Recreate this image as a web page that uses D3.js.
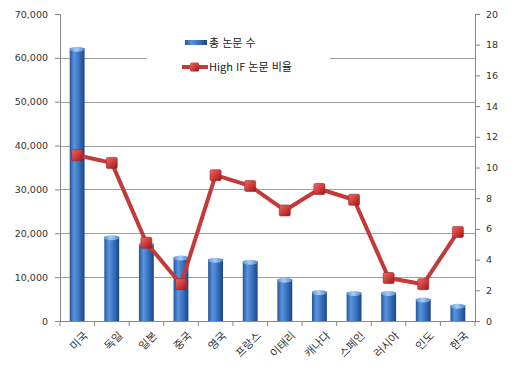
<!DOCTYPE html>
<html lang="ko">
<head>
<meta charset="UTF-8">
<title>논문 수</title>
<style>
  body { margin: 0; background: #fff; }
  text { font-family: "DejaVu Sans", sans-serif; }
  .kr { font-family: "Noto Sans CJK KR", sans-serif; }
</style>
</head>
<body>
<svg width="519" height="374"></svg>
<script src="https://cdn.jsdelivr.net/npm/d3@7"></script>
<script>
// 데이터
var countries = ["미국", "독일", "일본", "중국", "영국", "프랑스", "이태리", "캐나다", "스페인", "러시아", "인도", "한국"];
var totalPapers = [62200, 19200, 17600, 14600, 14100, 13600, 9500, 6700, 6500, 6500, 5000, 3600];
var highIfRatio = [10.8, 10.3, 5.1, 2.4, 9.5, 8.8, 7.2, 8.6, 7.9, 2.8, 2.4, 5.8];
var leftTicks = [0, 10000, 20000, 30000, 40000, 50000, 60000, 70000];
var rightTicks = [0, 2, 4, 6, 8, 10, 12, 14, 16, 18, 20];

var marge = {top: 14, bottom: 53, left: 60, right: 44};
var svg = d3.select("svg");
var width = 519 - marge.left - marge.right;
var height = 374 - marge.top - marge.bottom;
var g = svg.append("g").attr("transform", "translate(" + marge.left + "," + marge.top + ")");

var x = d3.scaleBand().domain(countries).range([0, width]).paddingInner(0.57).paddingOuter(0.28);
var xTick = d3.scaleBand().domain(countries).range([0, width]);
var yL = d3.scaleLinear().domain([0, 70000]).range([height, 0]);
var yR = d3.scaleLinear().domain([0, 20]).range([height, 0]);

// 그라데이션
var defs = svg.append("defs");
var barGrad = defs.append("linearGradient").attr("id", "barGrad").attr("x1", 0).attr("x2", 1).attr("y1", 0).attr("y2", 0);
[["0%", "#24559c"], ["30%", "#5a94dc"], ["55%", "#3f7bcb"], ["100%", "#1c4682"]].forEach(function (s) {
  barGrad.append("stop").attr("offset", s[0]).attr("stop-color", s[1]);
});
var capGrad = defs.append("linearGradient").attr("id", "capGrad").attr("x1", 0).attr("x2", 1);
[["0%", "#5d96d8"], ["45%", "#a8cdf5"], ["100%", "#4f86c8"]].forEach(function (s) {
  capGrad.append("stop").attr("offset", s[0]).attr("stop-color", s[1]);
});
var markGrad = defs.append("linearGradient").attr("id", "markGrad").attr("x1", 0).attr("x2", 1).attr("y1", 0).attr("y2", 1);
[["0%", "#ea6a68"], ["60%", "#c93432"], ["100%", "#8e1c1c"]].forEach(function (s) {
  markGrad.append("stop").attr("offset", s[0]).attr("stop-color", s[1]);
});

// 격자선
g.append("g").selectAll("line")
  .data(leftTicks.slice(1, -1))
  .enter().append("line")
  .attr("x1", 0).attr("x2", width)
  .attr("y1", function (d) { return Math.round(yL(d)) + 0.5; })
  .attr("y2", function (d) { return Math.round(yL(d)) + 0.5; })
  .attr("stroke", "#a0a0a0").attr("stroke-width", 1);

// 막대
var bars = g.append("g").selectAll("g")
  .data(totalPapers)
  .enter().append("g");
bars.append("rect")
  .attr("x", function (d, i) { return x(countries[i]); })
  .attr("y", function (d) { return yL(d); })
  .attr("width", x.bandwidth())
  .attr("height", function (d) { return height - yL(d); })
  .attr("fill", "url(#barGrad)");
bars.append("ellipse")
  .attr("cx", function (d, i) { return x(countries[i]) + x.bandwidth() / 2; })
  .attr("cy", function (d) { return yL(d) + 1; })
  .attr("rx", x.bandwidth() / 2)
  .attr("ry", 2.5)
  .attr("fill", "url(#capGrad)");

// 선
var line = d3.line()
  .x(function (d, i) { return x(countries[i]) + x.bandwidth() / 2; })
  .y(function (d) { return yR(d); });
g.append("path")
  .datum(highIfRatio)
  .attr("d", line)
  .attr("fill", "none")
  .attr("stroke", "#c23a3a")
  .attr("stroke-width", 4)
  .attr("stroke-linejoin", "round");
g.append("g").selectAll("rect")
  .data(highIfRatio)
  .enter().append("rect")
  .attr("x", function (d, i) { return x(countries[i]) + x.bandwidth() / 2 - 5.5; })
  .attr("y", function (d) { return yR(d) - 5.5; })
  .attr("width", 11).attr("height", 11)
  .attr("rx", 1.5)
  .attr("fill", "url(#markGrad)")
  .attr("stroke", "#9b2424").attr("stroke-width", 0.6);

// 축
var leftAxis = d3.axisLeft(yL).tickValues(leftTicks).tickFormat(d3.format(",")).tickSize(5).tickPadding(7);
var gl = g.append("g").call(leftAxis);
var rightAxis = d3.axisRight(yR).tickValues(rightTicks).tickSize(5).tickPadding(6);
var gr = g.append("g").attr("transform", "translate(" + width + ",0)").call(rightAxis);
var bottomAxis = d3.axisBottom(xTick).tickSize(5).tickFormat("");
var gb = g.append("g").attr("transform", "translate(0," + height + ")").call(bottomAxis);
// 범주 사이 눈금
gb.selectAll(".tick line").attr("transform", "translate(" + (xTick.bandwidth() / 2) + ",0)");
gb.append("line").attr("x1", 0).attr("x2", 0).attr("y1", 0).attr("y2", 5).attr("stroke", "#888");

[gl, gr, gb].forEach(function (a) {
  a.selectAll(".domain").attr("stroke", "#888");
  a.selectAll(".tick line").attr("stroke", "#888");
  a.selectAll("text").attr("fill", "#333").style("font-size", "9.5px").style("font-family", "DejaVu Sans, sans-serif");
});
gb.select(".domain").attr("d", "M0,0.5H" + width);

// 가로축 라벨
g.append("g").selectAll("text")
  .data(countries)
  .enter().append("text")
  .attr("class", "kr")
  .attr("transform", function (d) {
    return "translate(" + (xTick(d) + xTick.bandwidth() / 2 + 6) + "," + (height + 10) + ") rotate(-45)";
  })
  .attr("text-anchor", "end")
  .attr("dy", "0.7em")
  .style("font-size", "11px")
  .attr("fill", "#333")
  .text(function (d) { return d; });

// 범례
var lg = svg.append("g");
lg.append("rect").attr("x", 147).attr("y", 30).attr("width", 183).attr("height", 52).attr("fill", "#fff");
lg.append("rect").attr("x", 185).attr("y", 40).attr("width", 22).attr("height", 5).attr("fill", "url(#barGrad)");
lg.append("text").attr("class", "kr").attr("x", 209).attr("y", 47).style("font-size", "11px").attr("fill", "#222").text("총 논문 수");
lg.append("line").attr("x1", 182).attr("x2", 208).attr("y1", 67).attr("y2", 67).attr("stroke", "#c23a3a").attr("stroke-width", 4);
lg.append("rect").attr("x", 190).attr("y", 62.5).attr("width", 9).attr("height", 9).attr("rx", 1.5).attr("fill", "url(#markGrad)");
lg.append("text").attr("class", "kr").attr("x", 209).attr("y", 71).style("font-size", "11px").attr("fill", "#222").text("High IF 논문 비율");
</script>
</body>
</html>
